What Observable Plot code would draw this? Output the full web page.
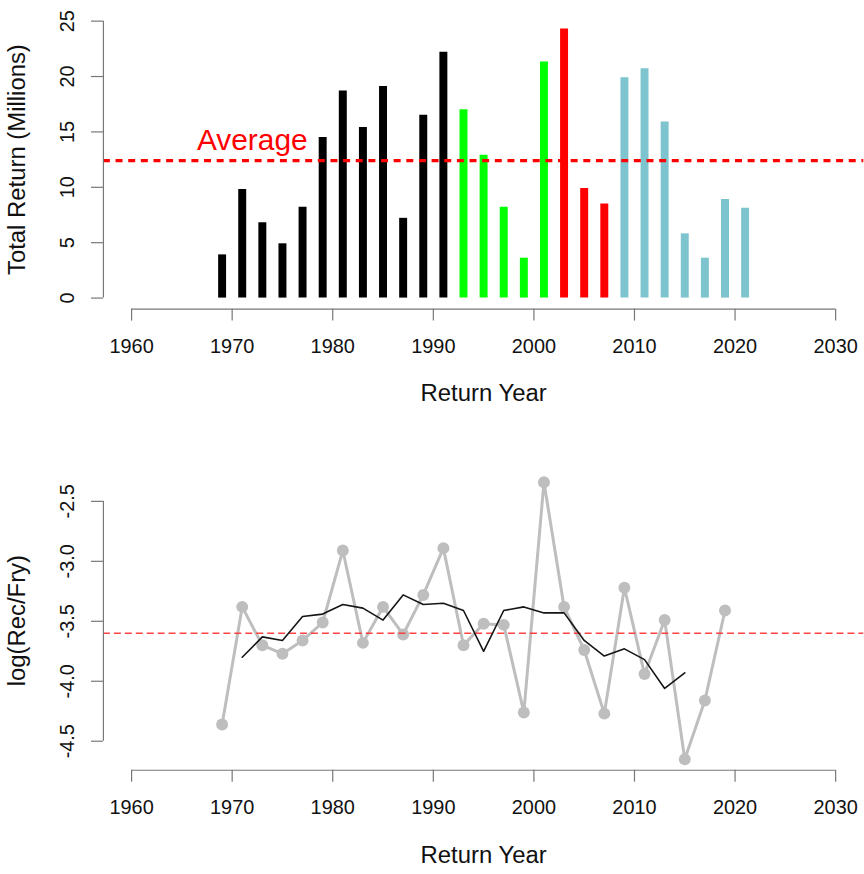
<!DOCTYPE html>
<html><head><meta charset="utf-8">
<script src="https://cdn.jsdelivr.net/npm/d3@7"></script>
<script src="https://cdn.jsdelivr.net/npm/@observablehq/plot@0.6"></script>
<style>
body{margin:0;background:#fff}
#wrap{width:864px;height:874px;overflow:hidden;background:#fff}
#wrap svg{display:block}
</style>
</head><body><div id="wrap"></div>
<script>
// ---- data ----
const returnYears = [1969,1971,1973,1975,1977,1979,1981,1983,1985,1987,1989,1991,
  1993,1995,1997,1999,2001,2003,2005,2007,2009,2011,2013,2015,2017,2019,2021];
const totalReturn = [3.9,9.8,6.8,4.9,8.2,14.5,18.7,15.4,19.1,7.2,16.5,22.2,
  17.0,12.9,8.2,3.6,21.3,24.3,9.9,8.5,19.9,20.7,15.9,5.8,3.6,8.9,8.1];
const period = ["P1","P1","P1","P1","P1","P1","P1","P1","P1","P1","P1","P1",
  "P2","P2","P2","P2","P2","P3","P3","P3","P4","P4","P4","P4","P4","P4","P4"];
const periods = ["P1","P2","P3","P4"];
const averageReturn = 12.4;
const averageLabel = "Average";
const averageLabelYear = 1972;

const logYears = [1969,1971,1973,1975,1977,1979,1981,1983,1985,1987,1989,1991,
  1993,1995,1997,1999,2001,2003,2005,2007,2009,2011,2013,2015,2017,2019];
const logRecFry = [-4.36,-3.38,-3.70,-3.77,-3.66,-3.51,-2.91,-3.68,-3.38,-3.61,-3.28,-2.89,
  -3.70,-3.52,-3.53,-4.26,-2.34,-3.38,-3.74,-4.27,-3.22,-3.94,-3.49,-4.65,-4.16,-3.41];
const meanYears = [1971,1973,1975,1977,1979,1981,1983,1985,1987,1989,1991,
  1993,1995,1997,1999,2001,2003,2005,2007,2009,2011,2013,2015];
const runningMean = [-3.80,-3.63,-3.66,-3.46,-3.44,-3.36,-3.39,-3.49,-3.28,-3.36,-3.35,
  -3.41,-3.75,-3.41,-3.38,-3.43,-3.43,-3.66,-3.79,-3.73,-3.82,-4.06,-3.93];
const averageLog = -3.60;

const xTicks = [1960,1970,1980,1990,2000,2010,2020,2030];
const yTicksTop = [0,5,10,15,20,25];
const yTicksBottom = [-2.5,-3.0,-3.5,-4.0,-4.5];
const xLabel = "Return Year";
const yLabelTop = "Total Return (Millions)";
const yLabelBottom = "log(Rec/Fry)";

// ---- styling ----
const font = "'Liberation Sans', Arial, Helvetica, sans-serif";
const axisColor = "#777";
const xDomain = [1957.2, 2032.8];
const topDomain = [-1, 26];
const bottomDomain = [-4.742, -2.248];

const bars = returnYears.map((year, i) => ({year, value: totalReturn[i], period: period[i]}));
const pts = logYears.map((year, i) => ({year, value: logRecFry[i]}));
const mean = meanYears.map((year, i) => ({year, value: runningMean[i]}));

function axes(yTicks, yDomain, fmt, yLabel) {
  return [
    Plot.ruleX([xDomain[0]], {y1: yTicks[yTicks.length - 1], y2: yTicks[0], stroke: axisColor, strokeWidth: 1.2}),
    Plot.axisY(yTicks, {tickSize: 12, fill: "none", stroke: axisColor, strokeWidth: 1.2, label: null}),
    Plot.text(yTicks, {frameAnchor: "left", y: d => d, text: fmt, dx: -35.5, rotate: -90,
      fontSize: 20, fill: "#111", textAnchor: "middle", lineAnchor: "middle"}),
    Plot.text([yLabel], {frameAnchor: "left", dx: -86.5, rotate: -90, fontSize: 24, fill: "#111",
      textAnchor: "middle", lineAnchor: "middle"}),
    Plot.ruleY([yDomain[0]], {x1: xTicks[0], x2: xTicks[xTicks.length - 1], stroke: axisColor, strokeWidth: 1.2}),
    Plot.axisX(xTicks, {tickSize: 12, fill: "none", stroke: axisColor, strokeWidth: 1.2, label: null}),
    Plot.text(xTicks, {frameAnchor: "bottom", x: d => d, text: d => String(d), dy: 38,
      fontSize: 20, fill: "#111", lineAnchor: "middle"}),
    Plot.text([xLabel], {frameAnchor: "bottom", dy: 85, fontSize: 24, fill: "#111", lineAnchor: "middle"})
  ];
}

const topChart = Plot.plot({
  width: 868, height: 437,
  marginLeft: 103.4, marginRight: 0.7, marginTop: 9.6, marginBottom: 126.9,
  style: {fontFamily: font, background: "#fff", overflow: "visible"},
  x: {domain: xDomain},
  y: {domain: topDomain},
  color: {domain: periods, range: ["#000000", "#00ff00", "#ff0000", "#7ec4cf"]},
  marks: [
    Plot.ruleX(bars, {x: "year", y1: 0, y2: "value", stroke: "period", strokeWidth: 8}),
    Plot.ruleY([averageReturn], {stroke: "#ff0000", strokeWidth: 3.3, strokeDasharray: "7,5.7"}),
    Plot.text([averageLabel], {x: averageLabelYear, y: averageReturn, dy: -20, fill: "#ff0000",
      fontSize: 30, lineAnchor: "middle"}),
    ...axes(yTicksTop, topDomain, d => String(d), yLabelTop)
  ]
});

const bottomChart = Plot.plot({
  width: 868, height: 437,
  marginLeft: 103.4, marginRight: 0.7, marginTop: 35.8, marginBottom: 100.7,
  style: {fontFamily: font, background: "#fff", overflow: "visible"},
  x: {domain: xDomain},
  y: {domain: bottomDomain},
  marks: [
    Plot.line(pts, {x: "year", y: "value", stroke: "#bebebe", strokeWidth: 3}),
    Plot.dot(pts, {x: "year", y: "value", r: 6, fill: "#bebebe", stroke: "none"}),
    Plot.ruleY([averageLog], {stroke: "#ff3030", strokeOpacity: 0.9, strokeWidth: 1.4, strokeDasharray: "7,4"}),
    Plot.line(mean, {x: "year", y: "value", stroke: "#151515", strokeWidth: 1.6}),
    ...axes(yTicksBottom, bottomDomain, d => d.toFixed(1), yLabelBottom)
  ]
});

const wrap = document.getElementById("wrap");
wrap.appendChild(topChart);
wrap.appendChild(bottomChart);
</script>
</body></html>
